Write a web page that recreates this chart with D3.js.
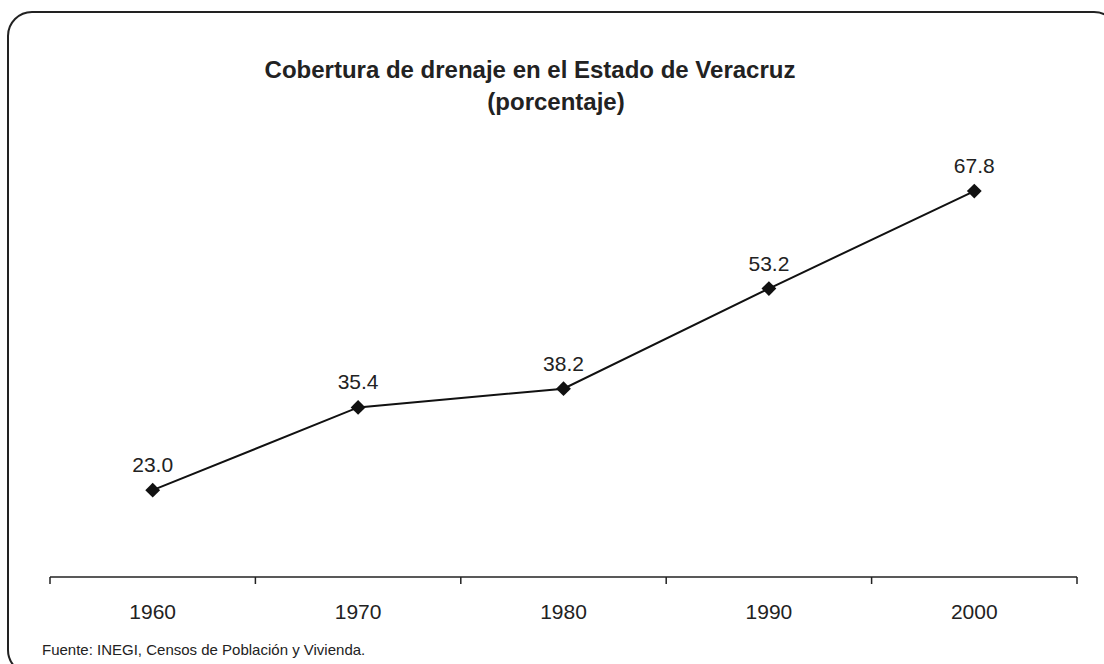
<!DOCTYPE html>
<html><head><meta charset="utf-8">
<script src="https://cdn.jsdelivr.net/npm/d3@7"></script>
<style>html,body{margin:0;padding:0;background:#fff;} svg{display:block;}</style>
</head><body>
<svg id="chart" width="1104" height="664"></svg>
<script>
const years = ["1960","1970","1980","1990","2000"];
const values = [23.0, 35.4, 38.2, 53.2, 67.8];
const titleLines = ["Cobertura de drenaje en el Estado de Veracruz", "(porcentaje)"];
const source = "Fuente: INEGI, Censos de Población y Vivienda.";

const svg = d3.select("#chart");
const font = "'Liberation Sans', Arial, Helvetica, sans-serif";

svg.append("rect").attr("x",8).attr("y",12).attr("width",1110).attr("height",662)
  .attr("rx",24).attr("ry",24).attr("fill","#fff").attr("stroke","#222").attr("stroke-width",2);

const x = d3.scaleBand().domain(years).range([50,1077]);
const y = d3.scaleLinear().domain([10,80]).range([577,109.6]);

svg.append("text").attr("x",530).attr("y",78).attr("text-anchor","middle")
  .attr("font-family",font).attr("font-weight","bold").attr("font-size",24).attr("fill","#222").text(titleLines[0]);
svg.append("text").attr("x",556).attr("y",110).attr("text-anchor","middle")
  .attr("font-family",font).attr("font-weight","bold").attr("font-size",24).attr("fill","#222").text(titleLines[1]);

const axis = svg.append("g").attr("transform",`translate(0,${y(10)})`)
  .call(d3.axisBottom(x).tickSize(0).tickPadding(0));
axis.select(".domain").remove();
axis.selectAll("text").remove();
axis.append("line").attr("x1",50).attr("x2",1077).attr("stroke","#222").attr("stroke-width",1.5);
const bounds = [50, ...years.map(d => x(d) + x.bandwidth())];
axis.selectAll(".tk").data(bounds).join("line").attr("class","tk")
  .attr("x1",d=>d).attr("x2",d=>d).attr("y1",0).attr("y2",7).attr("stroke","#222").attr("stroke-width",1.5);
axis.selectAll(".lbl").data(years).join("text").attr("class","lbl")
  .attr("x",d=>x(d)+x.bandwidth()/2).attr("y",42).attr("text-anchor","middle")
  .attr("font-family",font).attr("font-size",21).attr("fill","#222").text(d=>d);

const cx = (d,i) => x(years[i]) + x.bandwidth()/2;
const line = d3.line().x((d,i)=>cx(d,i)).y(d=>y(d));
svg.append("path").datum(values).attr("d",line).attr("fill","none").attr("stroke","#111").attr("stroke-width",2);

svg.selectAll(".pt").data(values).join("path").attr("class","pt")
  .attr("d", d3.symbol().type(d3.symbolDiamond2).size(140))
  .attr("transform",(d,i)=>`translate(${cx(d,i)},${y(d)}) rotate(0)`)
  .attr("fill","#111");

svg.selectAll(".vl").data(values).join("text").attr("class","vl")
  .attr("x",(d,i)=>cx(d,i)).attr("y",d=>y(d)-18).attr("text-anchor","middle")
  .attr("font-family",font).attr("font-size",21).attr("fill","#222").text(d=>d.toFixed(1));

svg.append("text").attr("x",42).attr("y",655).attr("font-family",font).attr("font-size",15).attr("fill","#222").text(source);
</script>
</body></html>
